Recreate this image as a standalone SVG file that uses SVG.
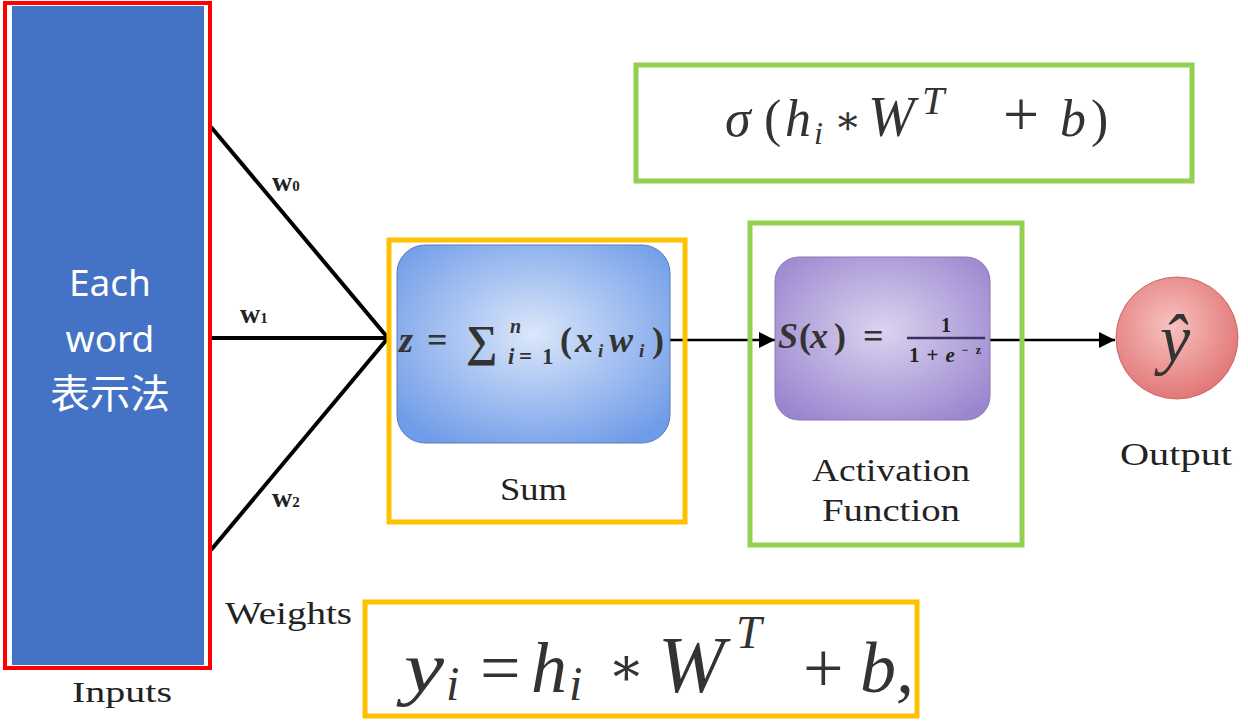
<svg xmlns="http://www.w3.org/2000/svg" width="1248" height="721" viewBox="0 0 1248 721">
<defs>
<style>
.serif{font-family:"Liberation Serif","DejaVu Serif",serif;fill:#222}
.math{font-family:"Liberation Serif","DejaVu Serif",serif;font-style:italic;fill:#333}
.up{font-style:normal}
.conn{stroke:#000;stroke-width:4;fill:none}
</style>
<radialGradient id="gBlue" cx="50%" cy="45%" r="65%">
<stop offset="0" stop-color="#dbe6fa"/><stop offset="1" stop-color="#6f9ce8"/>
</radialGradient>
<radialGradient id="gPurple" cx="50%" cy="45%" r="65%">
<stop offset="0" stop-color="#dcd3ef"/><stop offset="1" stop-color="#9a86cf"/>
</radialGradient>
<radialGradient id="gRed" cx="45%" cy="40%" r="65%">
<stop offset="0" stop-color="#f7c2c0"/><stop offset="1" stop-color="#e07272"/>
</radialGradient>
<marker id="arr2" viewBox="0 0 10 10" refX="10" refY="5" markerWidth="20" markerHeight="16" markerUnits="userSpaceOnUse" orient="auto"><path d="M0,0 L10,5 L0,10 z" fill="#000"/></marker>
</defs>
<rect width="1248" height="721" fill="#fff"/>

<g id="connectors">
<line class="conn" x1="211" y1="127" x2="388" y2="338"/>
<line class="conn" x1="211" y1="338" x2="388" y2="338"/>
<line class="conn" x1="211" y1="550" x2="388" y2="338"/>
<line x1="670" y1="340" x2="775" y2="340" stroke="#000" stroke-width="2.5" marker-end="url(#arr2)"/>
<line x1="990" y1="340" x2="1115" y2="340" stroke="#000" stroke-width="2.5" marker-end="url(#arr2)"/>
<text class="serif" x="272" y="191" font-size="28" font-weight="bold" fill="#333">w<tspan font-size="15">0</tspan></text>
<text class="serif" x="240" y="323" font-size="28" font-weight="bold" fill="#333">w<tspan font-size="15">1</tspan></text>
<text class="serif" x="272" y="507" font-size="28" font-weight="bold" fill="#333">w<tspan font-size="15">2</tspan></text>
<text class="serif" x="225" y="624" font-size="32" textLength="127" lengthAdjust="spacingAndGlyphs">Weights</text>
</g>

<g id="inputs">
<rect x="5" y="3" width="205" height="665" fill="#fff" stroke="#f00" stroke-width="4"/>
<rect x="12" y="6" width="192" height="659" fill="#4472C4"/>
<text x="110" y="296" font-family="'Noto Sans','Open Sans',sans-serif" font-size="37" fill="#fff" text-anchor="middle">Each</text>
<text x="110" y="352" font-family="'Noto Sans','Open Sans',sans-serif" font-size="37" fill="#fff" text-anchor="middle">word</text>
<text x="110" y="408" font-family="'Noto Sans CJK TC','Noto Sans CJK SC',sans-serif" font-size="40" fill="#fff" text-anchor="middle">表示法</text>
<text class="serif" x="72" y="702" font-size="30" textLength="100" lengthAdjust="spacingAndGlyphs">Inputs</text>
</g>

<g id="sum">
<rect x="397" y="245" width="273" height="198" rx="28" fill="url(#gBlue)" stroke="#5a7db5" stroke-width="1"/>
<text class="math" y="352" font-size="36" font-weight="bold" fill="#2a3350"><tspan x="399">z</tspan><tspan class="up" x="427">=</tspan><tspan class="up" x="466" font-size="44" dy="4">∑</tspan><tspan x="510" font-size="20" dy="-23">n</tspan><tspan x="508" font-size="23" dy="31">i</tspan><tspan class="up" x="519" font-size="23">=</tspan><tspan class="up" x="542" font-size="23">1</tspan><tspan class="up" x="560" dy="-12">(</tspan><tspan x="575">x</tspan><tspan x="598" font-size="19" dy="5">i</tspan><tspan x="609" dy="-5">w</tspan><tspan x="639" font-size="19" dy="5">i</tspan><tspan class="up" x="652" dy="-5">)</tspan></text>
<rect x="389" y="240" width="296" height="282" fill="none" stroke="#FFC000" stroke-width="5"/>
<text class="serif" x="500" y="500" font-size="31" textLength="67" lengthAdjust="spacingAndGlyphs">Sum</text>
</g>

<g id="activation">
<rect x="775" y="257" width="215" height="163" rx="24" fill="url(#gPurple)" stroke="#8a7bb0" stroke-width="1"/>
<text class="math" y="348" font-size="36" font-weight="bold" fill="#3a3160"><tspan x="778">S</tspan><tspan class="up" x="799">(</tspan><tspan x="810">x</tspan><tspan class="up" x="834">)</tspan><tspan class="up" x="863">=</tspan></text>
<line x1="907" y1="338" x2="985" y2="338" stroke="#3a3160" stroke-width="2.5"/>
<text class="serif" x="946" y="332" font-size="20" font-weight="bold" fill="#3a3160" text-anchor="middle">1</text>
<text class="serif" x="909" y="362" font-size="21" font-weight="bold" fill="#3a3160" textLength="72" lengthAdjust="spacing">1+<tspan font-style="italic">e</tspan><tspan font-size="12" dy="-8">−z</tspan></text>
<rect x="750" y="223" width="272" height="322" fill="none" stroke="#92D050" stroke-width="5"/>
<text class="serif" x="812" y="481" font-size="31" textLength="158" lengthAdjust="spacingAndGlyphs">Activation</text>
<text class="serif" x="822" y="521" font-size="31" textLength="138" lengthAdjust="spacingAndGlyphs">Function</text>
</g>

<g id="output">
<circle cx="1177" cy="338" r="61" fill="url(#gRed)" stroke="#c66" stroke-width="1"/>
<text class="math" x="1175" y="362" font-size="68" fill="#000" text-anchor="middle">ŷ</text>
<text class="serif" x="1120" y="465" font-size="31" textLength="112" lengthAdjust="spacingAndGlyphs">Output</text>
</g>

<g id="formula-top">
<rect x="636" y="65" width="556" height="116" fill="#fff" stroke="#92D050" stroke-width="5"/>
<text class="math" y="136" font-size="52" fill="#444"><tspan x="725">σ</tspan><tspan class="up" x="764">(</tspan><tspan x="785">h</tspan><tspan x="814" font-size="32" dy="8">i</tspan><tspan class="up" x="834" dy="-10" font-size="40">∗</tspan><tspan x="868" dy="2" font-size="56">W</tspan><tspan x="922" font-size="40" dy="-22">T</tspan><tspan class="up" x="1003" dy="22" font-size="64">+</tspan><tspan x="1060">b</tspan><tspan class="up" x="1091">)</tspan></text>
</g>

<g id="formula-bottom">
<rect x="365" y="602" width="552" height="114" fill="#fff" stroke="#FFC000" stroke-width="5"/>
<text class="math" y="692" font-size="72" fill="#000"><tspan x="404" textLength="40" lengthAdjust="spacingAndGlyphs">y</tspan><tspan x="446" font-size="48" dy="8">i</tspan><tspan class="up" x="480" dy="-8">=</tspan><tspan x="531">h</tspan><tspan x="569" font-size="48" dy="8">i</tspan><tspan class="up" x="608" dy="-15" font-size="54">∗</tspan><tspan x="658" dy="7" font-size="80">W</tspan><tspan x="736" font-size="46" dy="-44">T</tspan><tspan class="up" x="803" dy="44">+</tspan><tspan x="860">b,</tspan></text>
</g>
</svg>
